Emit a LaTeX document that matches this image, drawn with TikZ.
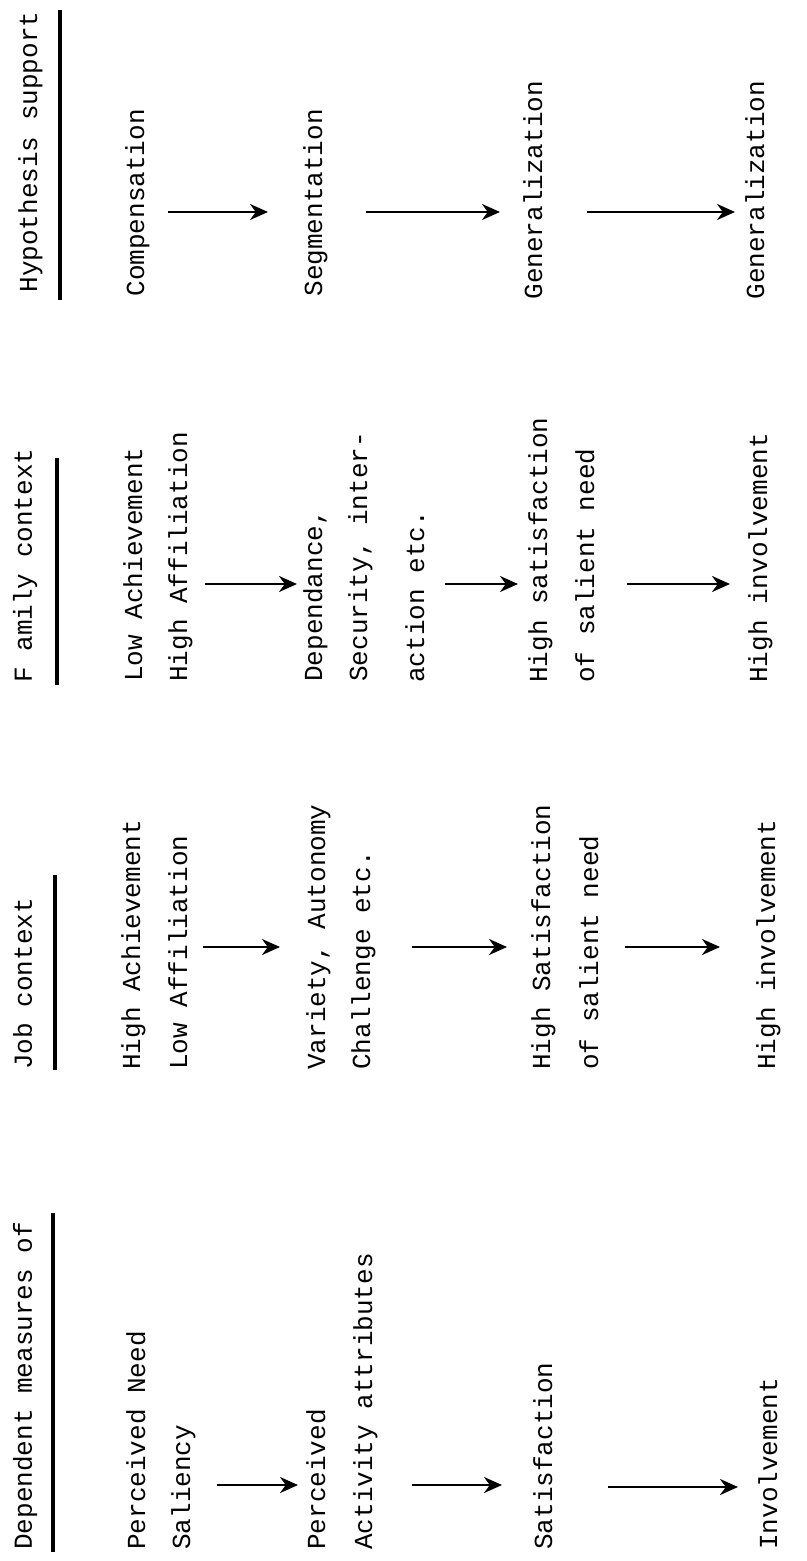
\documentclass[tikz,border=0pt]{standalone}
\usepackage{fontspec}
\setmonofont{Liberation Mono}
\usetikzlibrary{arrows.meta}
\tikzset{
  lbl/.style={rotate=90, anchor=base west, inner sep=0pt, text=black,
    font=\ttfamily\fontsize{13}{16}\selectfont},
  arr/.style={-{Stealth[length=9pt,width=8pt]}, line width=1.4pt},
  hrule/.style={line width=2pt}
}
\begin{document}
\begin{tikzpicture}[x=0.5pt,y=-0.5pt]
\useasboundingbox (0,0) rectangle (807,1561);
\fill[white] (0,0) rectangle (807,1561);

% ---- Column: Hypothesis support (top of image)
\node[lbl] (h4)  at (37,293)  {Hypothesis support};
\coordinate (u4a) at (60,10);  \coordinate (u4b) at (60,300);
\draw[hrule] (u4a) -- (u4b);
\node[lbl] (h4a) at (144,297) {Compensation};
\node[lbl] (h4b) at (322,297) {Segmentation};
\node[lbl] (h4c) at (542,300) {Generalization};
\node[lbl] (h4d) at (764,300) {Generalization};
\coordinate (a41s) at (168,212); \coordinate (a41e) at (268,212);
\coordinate (a42s) at (366,212); \coordinate (a42e) at (500,212);
\coordinate (a43s) at (587,212); \coordinate (a43e) at (735,212);
\draw[arr] (a41s) -- (a41e);
\draw[arr] (a42s) -- (a42e);
\draw[arr] (a43s) -- (a43e);

% ---- Column: Family context
\node[lbl] (h3)  at (32,683)  {F amily context};
\coordinate (u3a) at (57,458); \coordinate (u3b) at (57,685);
\draw[hrule] (u3a) -- (u3b);
\node[lbl] (f1a) at (142,682) {Low Achievement};
\node[lbl] (f1b) at (187,682) {High Affiliation};
\node[lbl] (f2a) at (322,682) {Dependance,};
\node[lbl] (f2b) at (367,682) {Security, inter-};
\node[lbl] (f2c) at (424,683) {action etc.};
\node[lbl] (f3a) at (547,683) {High satisfaction};
\node[lbl] (f3b) at (594,683) {of salient need};
\node[lbl] (f4)  at (767,683) {High involvement};
\coordinate (a31s) at (205,584); \coordinate (a31e) at (297,584);
\coordinate (a32s) at (445,584); \coordinate (a32e) at (518,584);
\coordinate (a33s) at (627,584); \coordinate (a33e) at (730,584);
\draw[arr] (a31s) -- (a31e);
\draw[arr] (a32s) -- (a32e);
\draw[arr] (a33s) -- (a33e);

% ---- Column: Job context
\node[lbl] (h2)  at (32,1070) {Job context};
\coordinate (u2a) at (55,875); \coordinate (u2b) at (55,1070);
\draw[hrule] (u2a) -- (u2b);
\node[lbl] (j1a) at (140,1070) {High Achievement};
\node[lbl] (j1b) at (187,1070) {Low Affiliation};
\node[lbl] (j2a) at (325,1070) {Variety, Autonomy};
\node[lbl] (j2b) at (370,1070) {Challenge etc.};
\node[lbl] (j3a) at (550,1070) {High Satisfaction};
\node[lbl] (j3b) at (598,1070) {of salient need};
\node[lbl] (j4)  at (775,1070) {High involvement};
\coordinate (a21s) at (203,947); \coordinate (a21e) at (280,947);
\coordinate (a22s) at (412,947); \coordinate (a22e) at (507,947);
\coordinate (a23s) at (625,947); \coordinate (a23e) at (720,947);
\draw[arr] (a21s) -- (a21e);
\draw[arr] (a22s) -- (a22e);
\draw[arr] (a23s) -- (a23e);

% ---- Column: Dependent measures of (bottom of image)
\node[lbl] (h1)  at (32,1550) {Dependent measures of};
\coordinate (u1a) at (53,1213); \coordinate (u1b) at (53,1552);
\draw[hrule] (u1a) -- (u1b);
\node[lbl] (d1a) at (145,1550) {Perceived Need};
\node[lbl] (d1b) at (190,1550) {Saliency};
\node[lbl] (d2a) at (325,1550) {Perceived};
\node[lbl] (d2b) at (372,1550) {Activity attributes};
\node[lbl] (d3)  at (552,1550) {Satisfaction};
\node[lbl] (d4)  at (777,1550) {Involvement};
\coordinate (a11s) at (217,1485); \coordinate (a11e) at (298,1485);
\coordinate (a12s) at (412,1485); \coordinate (a12e) at (502,1485);
\coordinate (a13s) at (608,1487); \coordinate (a13e) at (738,1487);
\draw[arr] (a11s) -- (a11e);
\draw[arr] (a12s) -- (a12e);
\draw[arr] (a13s) -- (a13e);
\end{tikzpicture}
\end{document}
